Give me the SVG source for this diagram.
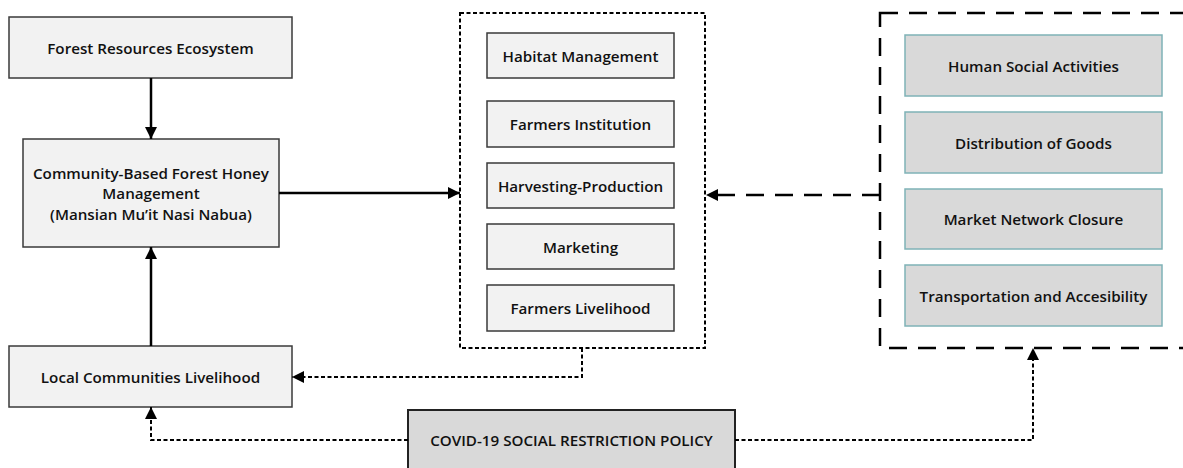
<svg xmlns="http://www.w3.org/2000/svg" width="1183" height="468" viewBox="0 0 1183 468">
<defs>
<style>
.lt{fill:#f2f2f2;stroke:#3a3a3a;stroke-width:1.5}
.gr{fill:#d9d9d9;stroke:#7fb2b7;stroke-width:1.5}
.cv{fill:#d9d9d9;stroke:#222;stroke-width:2}
.t{font-family:"Open Sans","Liberation Sans",sans-serif;font-weight:600;font-size:15.2px;fill:#111;text-anchor:middle;dominant-baseline:central}
.solid{fill:none;stroke:#000;stroke-width:2.5}
.dot{fill:none;stroke:#000;stroke-width:2;stroke-dasharray:4 2.5}
.dash{fill:none;stroke:#000;stroke-width:2.5;stroke-dasharray:18 11}
</style>
<marker id="ah" viewBox="0 0 10 10" refX="10" refY="5" markerWidth="12" markerHeight="12" markerUnits="userSpaceOnUse" orient="auto">
<path d="M0,0 L10,5 L0,10 z" fill="#000"/>
</marker>
</defs>
<rect width="1183" height="468" fill="#fff"/>

<g id="forest"><rect class="lt" x="9" y="17" width="283" height="61"/><text class="t" x="150.5" y="48">Forest Resources Ecosystem</text></g>
<g id="community"><rect class="lt" x="23" y="139" width="256" height="108"/>
<text class="t" x="151" y="173">Community-Based Forest Honey</text>
<text class="t" x="151" y="193">Management</text>
<text class="t" x="151" y="214">(Mansian Mu’it Nasi Nabua)</text></g>
<g id="local"><rect class="lt" x="9" y="346" width="283" height="61"/><text class="t" x="150.5" y="377">Local Communities Livelihood</text></g>

<g id="middle-group"><rect x="460" y="13" width="245" height="335" fill="none" stroke="#000" stroke-width="2" stroke-dasharray="4 2.5"/></g>
<g id="habitat"><rect class="lt" x="487" y="33" width="187" height="45"/><text class="t" x="580.5" y="55.5">Habitat Management</text></g>
<g id="institution"><rect class="lt" x="487" y="101" width="187" height="46"/><text class="t" x="580.5" y="124">Farmers Institution</text></g>
<g id="harvesting"><rect class="lt" x="487" y="163" width="187" height="45"/><text class="t" x="580.5" y="185.5">Harvesting-Production</text></g>
<g id="marketing"><rect class="lt" x="487" y="224" width="187" height="45"/><text class="t" x="580.5" y="246.5">Marketing</text></g>
<g id="farmers-livelihood"><rect class="lt" x="487" y="285" width="187" height="46"/><text class="t" x="580.5" y="308">Farmers Livelihood</text></g>

<g id="right-group"><rect x="880" y="13" width="310" height="335" fill="none" stroke="#000" stroke-width="2.5" stroke-dasharray="18 11"/></g>
<g id="human"><rect class="gr" x="905" y="35" width="257" height="61"/><text class="t" x="1033.5" y="65.5">Human Social Activities</text></g>
<g id="distribution"><rect class="gr" x="905" y="112" width="257" height="61"/><text class="t" x="1033.5" y="142.5">Distribution of Goods</text></g>
<g id="market"><rect class="gr" x="905" y="189" width="257" height="60"/><text class="t" x="1033.5" y="219">Market Network Closure</text></g>
<g id="transport"><rect class="gr" x="905" y="265" width="257" height="61"/><text class="t" x="1033.5" y="295.5">Transportation and Accesibility</text></g>

<g id="covid"><rect class="cv" x="408" y="410" width="327" height="62"/><text class="t" x="571.5" y="440">COVID-19 SOCIAL RESTRICTION POLICY</text></g>

<g id="connectors">
<path class="solid" d="M151,78 V139" marker-end="url(#ah)"/>
<path class="solid" d="M151,346 V247" marker-end="url(#ah)"/>
<path class="solid" d="M279,193 H460" marker-end="url(#ah)"/>
<path class="dash" d="M880,195 H706" marker-end="url(#ah)"/>
<path class="dot" d="M582,348 V377 H292" marker-end="url(#ah)"/>
<path class="dot" d="M408,440 H151 V407" marker-end="url(#ah)"/>
<path class="dot" d="M735,440 H1033 V348" marker-end="url(#ah)"/>
</g>
</svg>
